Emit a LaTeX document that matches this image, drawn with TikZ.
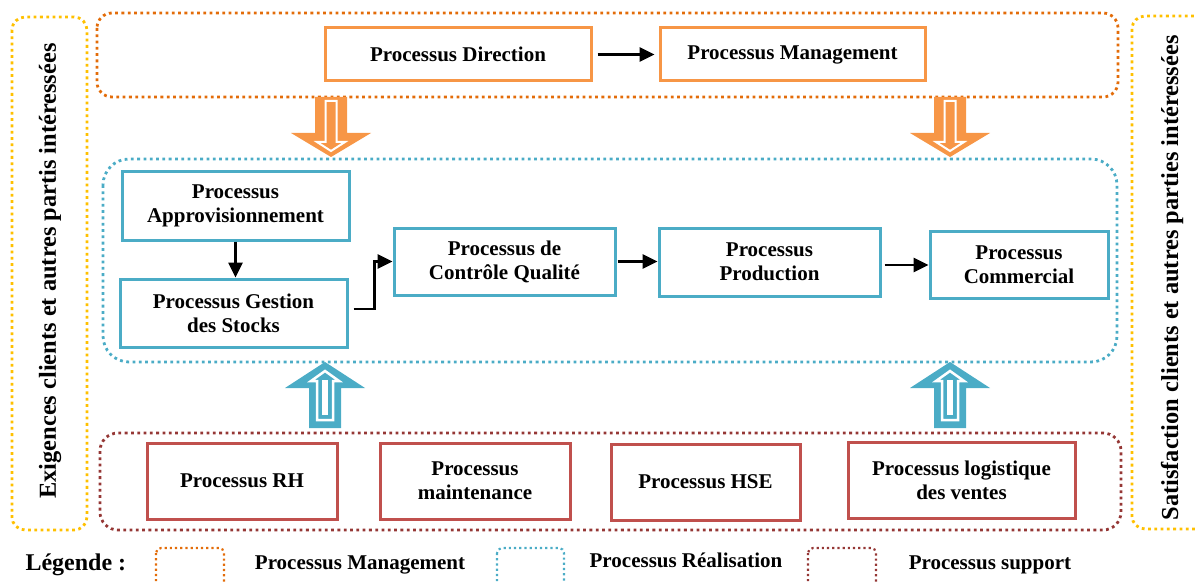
\documentclass[tikz,border=0pt]{standalone}
\usepackage{fontspec}
\setmainfont{Liberation Serif}
\usetikzlibrary{arrows.meta,calc}

\definecolor{mgmtdot}{HTML}{E36C09}
\definecolor{mgmtline}{HTML}{F79646}
\definecolor{realline}{HTML}{4BACC6}
\definecolor{suppdot}{HTML}{953735}
\definecolor{suppline}{HTML}{C0504D}
\definecolor{clientdot}{HTML}{FFC000}

\tikzset{
  dotframe/.style={line width=2.8pt, dash pattern=on 2.8pt off 3.5pt},
  procbox/.style={line width=3pt, fill=white, align=center, inner sep=0pt,
    font=\bfseries\fontsize{21}{24}\selectfont},
  mgmtbox/.style={procbox, draw=mgmtline},
  realbox/.style={procbox, draw=realline},
  suppbox/.style={procbox, draw=suppline},
  conn/.style={line width=2.6pt, -{Triangle[length=15pt,width=14pt]}},
  sidetext/.style={rotate=90, font=\bfseries\fontsize{24.4}{28}\selectfont},
  legtext/.style={font=\bfseries\fontsize{21}{24}\selectfont, anchor=base},
  legframe/.style={line width=2.2pt, dash pattern=on 2.2pt off 3pt, rounded corners=5pt},
}

\begin{document}
\begin{tikzpicture}[x=1pt,y=-1pt]
\useasboundingbox (0,0) rectangle (1195,583);

% ---- surrounding dotted frames ----
\draw[dotframe, draw=clientdot, rounded corners=13pt] (12,17) rectangle (87,530);
\draw[dotframe, draw=clientdot, rounded corners=13pt] (1132,16) rectangle (1210,529);
\draw[dotframe, draw=mgmtdot, rounded corners=15pt] (97,13) rectangle (1118,97);
\draw[dotframe, draw=realline, rounded corners=26pt] (103,159) rectangle (1117,362);
\draw[dotframe, draw=suppdot, rounded corners=18pt] (100,433) rectangle (1121,530);

% ---- side labels ----
\node[sidetext] (exig) at (50,271) {Exigences clients et autres partis intéressées};
\node[sidetext] (satis) at (1172,278) {Satisfaction clients et autres parties intéressées};

% ---- block arrows: management (down) ----
\foreach \cx in {331,950}{
  \fill[mgmtline] (\cx-16,97) -- (\cx+16,97) -- (\cx+16,133) -- (\cx+40,133)
    -- (\cx,157) -- (\cx-40,133) -- (\cx-16,133) -- cycle;
  \draw[white, line width=2pt, line join=miter] (\cx-5.5,101) -- (\cx+5.5,101) -- (\cx+5.5,142)
    -- (\cx+14,142) -- (\cx,151) -- (\cx-14,142) -- (\cx-5.5,142) -- cycle;
}
% ---- block arrows: support (up) ----
\foreach \cx in {325,950}{
  \fill[realline] (\cx-16,428) -- (\cx+16,428) -- (\cx+16,388) -- (\cx+40,388)
    -- (\cx,362) -- (\cx-40,388) -- (\cx-16,388) -- cycle;
  \draw[white, line width=2.5pt, line join=miter] (\cx-8,420) -- (\cx+8,420) -- (\cx+8,381)
    -- (\cx+14,381) -- (\cx,371) -- (\cx-14,381) -- (\cx-8,381) -- cycle;
  \fill[white] (\cx-3,380) rectangle (\cx+3,415);
}

% ---- management processes ----
\node[mgmtbox, minimum width=266pt, minimum height=53pt] (dir) at (458,54.5) {Processus Direction};
\node[mgmtbox, minimum width=265pt, minimum height=53pt] (mgt) at (792.5,54.5) {Processus Management};

% ---- realisation processes ----
\node[realbox, minimum width=227pt, minimum height=68pt] (appro) at (235.5,206) {Processus\\Approvisionnement};
\node[realbox, minimum width=227pt, minimum height=68pt] (stock) at (233.5,313) {Processus Gestion\\des Stocks};
\node[realbox, minimum width=221pt, minimum height=67pt] (ctrl) at (504.5,261.5) {Processus de\\Contrôle Qualité};
\node[realbox, minimum width=221pt, minimum height=68pt] (prod) at (769.5,262) {Processus\\Production};
\node[realbox, minimum width=178pt, minimum height=67pt] (comm) at (1019,264.5) {Processus\\Commercial};

% ---- support processes ----
\node[suppbox, minimum width=190pt, minimum height=76pt] (rh) at (242,481) {Processus RH};
\node[suppbox, minimum width=190pt, minimum height=76pt] (maint) at (475,481) {Processus\\maintenance};
\node[suppbox, minimum width=189pt, minimum height=76pt] (hse) at (705.5,482) {Processus HSE};
\node[suppbox, minimum width=227pt, minimum height=76pt] (logi) at (961.5,480) {Processus logistique\\des ventes};

% ---- flow connectors ----
\draw[conn] ([xshift=5pt]dir.east) -- ([xshift=-4pt]mgt.west);
\draw[conn] (appro.south) -- (appro.south |- stock.north);
\draw[conn] ([shift={(5,-4)}]stock.east) -- ++(21,0) |- (ctrl.west);
\draw[conn] ([xshift=1pt]ctrl.east) -- (ctrl.east -| prod.west);
\draw[conn] ([shift={(3,3)}]prod.east) -- ([shift={(0,3)}]prod.east -| comm.west);

% ---- legend ----
\node[font=\bfseries\fontsize{24}{28}\selectfont, anchor=base west] (leg) at (22,570) {Légende :};
\draw[legframe, draw=mgmtdot] (156,548) rectangle (224,598);
\node[legtext] (legm) at (360,569) {Processus Management};
\draw[legframe, draw=realline] (497,548) rectangle (564,598);
\node[legtext] (legr) at (686,567) {Processus Réalisation};
\draw[legframe, draw=suppdot] (808,548) rectangle (876,598);
\node[legtext] (legs) at (990,569) {Processus support};
\end{tikzpicture}
\end{document}
